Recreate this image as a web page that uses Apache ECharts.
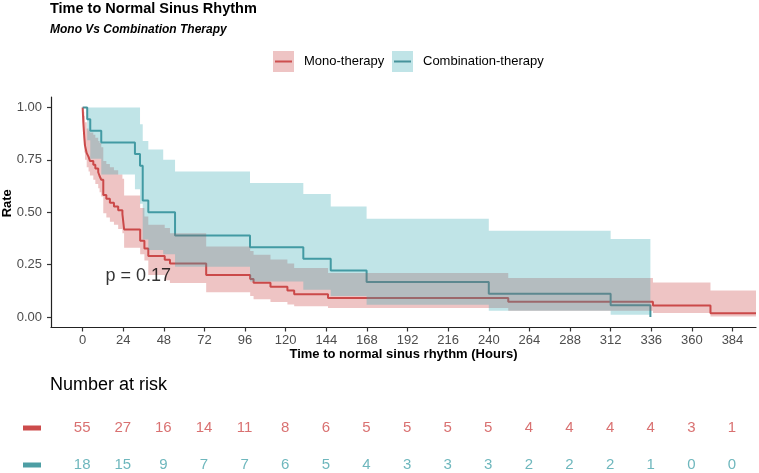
<!DOCTYPE html>
<html><head><meta charset="utf-8">
<script src="https://cdn.jsdelivr.net/npm/echarts@6/dist/echarts.min.js"></script>
<style>html,body{margin:0;padding:0;background:#fff}#c{width:759px;height:473px}</style>
</head><body><div id="c"></div>
<script>
const FONT = '"Liberation Sans", Arial, Helvetica, sans-serif';
const groups = ['Mono-therapy', 'Combination-therapy'];
const xTicks = [0, 24, 48, 72, 96, 120, 144, 168, 192, 216, 240, 264, 288, 312, 336, 360, 384];
const yTicks = [0, 0.25, 0.5, 0.75, 1];

// Mono-therapy KM curve (step starts) and confidence band
const monoT  = [0,0.2,0.4,0.7,1.0,1.4,2.4,3.5,4.3,6.3,7.5,9.2,10,11,12.2,14,16.1,18.5,21,23.5,24.5,34,36.5,38.8,48.5,51.6,73,99,101,111,121,125,145,251.5,337,371,397.9];
const monoS  = [1,0.964,0.927,0.891,0.855,0.818,0.782,0.764,0.745,0.727,0.709,0.691,0.673,0.655,0.582,0.564,0.545,0.527,0.509,0.491,0.418,0.364,0.327,0.291,0.273,0.255,0.2,0.182,0.164,0.145,0.127,0.109,0.091,0.073,0.055,0.018,0.018];
const monoHi = [1,1,1,0.98,0.96,0.93,0.90,0.89,0.88,0.87,0.855,0.84,0.83,0.81,0.745,0.73,0.715,0.70,0.68,0.66,0.58,0.52,0.48,0.44,0.425,0.40,0.337,0.315,0.297,0.275,0.255,0.234,0.21,0.186,0.165,0.127,0.127];
const monoLo = [1,0.93,0.87,0.82,0.785,0.75,0.715,0.695,0.675,0.655,0.635,0.615,0.595,0.575,0.495,0.475,0.455,0.44,0.42,0.40,0.33,0.30,0.27,0.20,0.175,0.162,0.118,0.10,0.085,0.072,0.06,0.051,0.043,0.03,0.019,0.003,0.003];

// Combination-therapy KM curve and confidence band
const combT = [0,2.7,4.5,11,30.9,33.9,35.5,38.8,54.6,98.9,130.4,146.6,167.8,240,312,335.5];
const combS = [1,0.944,0.889,0.833,0.778,0.722,0.556,0.5,0.389,0.333,0.278,0.222,0.167,0.111,0.056,0];
const combBandT = [0,2.7,4.5,11,30.9,33.9,35.5,38.8,47.6,54.6,98.9,130.4,146.6,167.8,240,312,335.5];
const combHi = [1,1,1,1,1,0.92,0.84,0.80,0.75,0.695,0.64,0.587,0.528,0.469,0.412,0.372,0.372];
const combLo = [1,0.844,0.755,0.68,0.61,0.54,0.37,0.32,0.30,0.24,0.17,0.13,0.10,0.059,0.03,0.011,0.011];

// Number at risk
const riskTimes = xTicks;
const monoRisk = [55,27,16,14,11,8,6,5,5,5,5,4,4,4,4,3,1];
const combRisk = [18,15,9,7,7,6,5,4,3,3,3,2,2,2,1,0,0];

const pText = 'p = 0.17';
const pPos = [13.8, 0.195];

const C = {
  monoLine: '#cd4f4f', combLine: '#46939b',
  monoBand: 'rgba(200,60,60,0.3)', combBand: 'rgba(60,170,180,0.32)',
  monoText: '#d04d4d', combText: '#4aa5ad',
  monoKey: '#cc4b4b', combKey: '#4d9ea4'
};
const XMIN = -18.7, XMAX = 397.9;

function bandSeries(name, T, lo, hi, color) {
  return {
    type: 'custom', name, xAxisIndex: 0, yAxisIndex: 0, z: 3, silent: true,
    data: [[T[0], lo[0]]],
    renderItem(params, api) {
      const pts = [];
      for (let i = 0; i < T.length - 1; i++) { pts.push(api.coord([T[i], hi[i]])); pts.push(api.coord([T[i + 1], hi[i]])); }
      for (let i = T.length - 2; i >= 0; i--) { pts.push(api.coord([T[i + 1], lo[i]])); pts.push(api.coord([T[i], lo[i]])); }
      return { type: 'polygon', shape: { points: pts }, style: { fill: color } };
    }
  };
}
function lineSeries(name, T, S, color) {
  return {
    type: 'line', name, step: 'end', xAxisIndex: 0, yAxisIndex: 0, z: 2, silent: true,
    symbol: 'none', showSymbol: false,
    lineStyle: { color, width: 2 },
    data: T.map((t, i) => [t, S[i]])
  };
}
function riskSeries(group, risk, color) {
  return {
    type: 'scatter', xAxisIndex: 1, yAxisIndex: 1, silent: true,
    symbolSize: 1, itemStyle: { color: 'rgba(0,0,0,0)' },
    data: riskTimes.map((t, i) => [t, group, risk[i]]),
    label: { show: true, position: [0, 0], align: 'center', verticalAlign: 'middle',
      formatter: p => String(p.value[2]), fontFamily: FONT, fontSize: 15, color }
  };
}

const chart = echarts.init(document.getElementById('c'), null, { renderer: 'canvas' });
chart.setOption({
  animation: false,
  backgroundColor: '#fff',
  title: [
    { text: 'Time to Normal Sinus Rhythm', left: 50, top: 1.5, padding: 0,
      textStyle: { fontFamily: FONT, fontSize: 14.5, fontWeight: 'bold', color: '#000' } },
    { text: 'Mono Vs Combination Therapy', left: 50, top: 23.5, padding: 0,
      textStyle: { fontFamily: FONT, fontSize: 12, fontWeight: 'bold', fontStyle: 'italic', color: '#000' } },
    { text: 'Number at risk', left: 50, top: 376, padding: 0,
      textStyle: { fontFamily: FONT, fontSize: 18, fontWeight: 'normal', color: '#000' } }
  ],
  graphic: [
    { type: 'rect', shape: { x: 273, y: 51, width: 21, height: 21 }, style: { fill: C.monoBand } },
    { type: 'line', shape: { x1: 275, y1: 61.5, x2: 292, y2: 61.5 }, style: { stroke: C.monoLine, lineWidth: 2 } },
    { type: 'text', left: 304, top: 54.5, style: { text: groups[0], font: '13px ' + FONT, fill: '#000' } },
    { type: 'rect', shape: { x: 392, y: 51, width: 21, height: 21 }, style: { fill: C.combBand } },
    { type: 'line', shape: { x1: 394, y1: 61.5, x2: 411, y2: 61.5 }, style: { stroke: C.combLine, lineWidth: 2 } },
    { type: 'text', left: 423, top: 54.5, style: { text: groups[1], font: '13px ' + FONT, fill: '#000' } }
  ],
  grid: [
    { left: 51, right: 3, top: 97, height: 230.5, outerBoundsMode: 'none', containLabel: false },
    { left: 51, right: 3, top: 409.5, height: 74, outerBoundsMode: 'none', containLabel: false }
  ],
  xAxis: [
    { type: 'value', gridIndex: 0, min: XMIN, max: XMAX,
      name: 'Time to normal sinus rhythm (Hours)', nameLocation: 'middle', nameGap: 20,
      nameTextStyle: { fontFamily: FONT, fontSize: 13, fontWeight: 'bold', color: '#000' },
      axisLine: { show: true, onZero: false, lineStyle: { color: '#222', width: 1.2 } },
      axisTick: { show: true, customValues: xTicks, length: 4, lineStyle: { color: '#333', width: 1.2 } },
      axisLabel: { customValues: xTicks, margin: 6, fontFamily: FONT, fontSize: 13, color: '#4d4d4d' },
      splitLine: { show: false } },
    { type: 'value', gridIndex: 1, min: XMIN, max: XMAX, show: false }
  ],
  yAxis: [
    { type: 'value', gridIndex: 0, min: -0.05, max: 1.05,
      name: 'Rate', nameLocation: 'middle', nameGap: 37, nameMoveOverlap: false,
      nameTextStyle: { fontFamily: FONT, fontSize: 13, fontWeight: 'bold', color: '#000', padding: [0, 0, 0, 18] },
      axisLine: { show: true, onZero: false, lineStyle: { color: '#222', width: 1.2 } },
      axisTick: { show: true, customValues: yTicks, length: 4, lineStyle: { color: '#333', width: 1.2 } },
      axisLabel: { customValues: yTicks, margin: 9, fontFamily: FONT, fontSize: 13, color: '#4d4d4d',
        formatter: v => v.toFixed(2) },
      splitLine: { show: false } },
    { type: 'category', gridIndex: 1, data: [groups[1], groups[0]],
      axisLine: { show: false }, axisTick: { show: false }, splitLine: { show: false },
      axisLabel: { margin: 10, fontSize: 1,
        formatter: v => v === groups[0] ? '{m| }' : '{c| }',
        rich: { m: { width: 18, height: 5, backgroundColor: C.monoKey, fontSize: 1 },
                c: { width: 18, height: 5, backgroundColor: C.combKey, fontSize: 1 } } } }
  ],
  series: [
    lineSeries(groups[0], monoT, monoS, C.monoLine),
    lineSeries(groups[1], combT, combS, C.combLine),
    bandSeries(groups[0] + ' CI', monoT, monoLo, monoHi, C.monoBand),
    bandSeries(groups[1] + ' CI', combBandT, combLo, combHi, C.combBand),
    { type: 'scatter', xAxisIndex: 0, yAxisIndex: 0, silent: true, z: 5,
      symbolSize: 1, itemStyle: { color: 'rgba(0,0,0,0)' }, data: [pPos],
      label: { show: true, position: [0, 0], align: 'left', verticalAlign: 'middle',
        formatter: pText, fontFamily: FONT, fontSize: 18, color: '#000' } },
    riskSeries(groups[0], monoRisk, C.monoText),
    riskSeries(groups[1], combRisk, C.combText)
  ]
});
</script></body></html>
